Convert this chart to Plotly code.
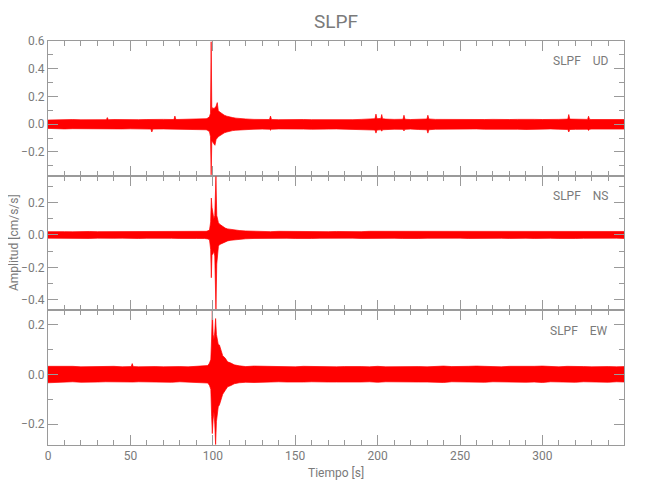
import plotly.graph_objects as go
from plotly.subplots import make_subplots

# ---------------- data (envelopes) ----------------
# UD component: time [s], upper and lower envelope [cm/s/s]
t_ud = [0, 5, 10, 15, 20, 25, 30, 35.4, 36, 36.6, 40, 45, 50, 55, 60, 62.4, 63, 63.6, 70, 76.4,
        77, 77.6, 80, 85, 90, 95,
        96, 97, 98, 98.6, 99.0, 99.4, 100.0, 100.6, 101.3, 102.0, 102.7,
        103.3, 104, 105, 106, 107, 108.5, 110, 112, 114, 117, 120,
        125, 130, 134.4, 135, 135.6, 140, 145, 150, 155, 160, 165, 170, 175, 180, 185,
        190, 195, 198.4, 199, 199.6, 202, 202.5, 203, 205, 210, 215.4, 216, 216.6, 220, 225,
        229.9, 230.5, 231.1, 235, 240, 245, 250, 255, 260, 265, 270, 275, 280, 285, 290,
        295, 300, 305, 310, 315.4, 316, 316.6, 320, 325, 327.4, 328, 328.6, 330, 335, 340,
        345, 350]
up_ud = [0.030, 0.033, 0.031, 0.034, 0.032, 0.033, 0.034, 0.033, 0.048, 0.033,
         0.034, 0.032, 0.035, 0.033, 0.034, 0.033, 0.036, 0.033, 0.035, 0.034,
         0.059, 0.034, 0.035, 0.033, 0.034, 0.036,
         0.040, 0.045, 0.055, 0.080, 0.595, 0.100, 0.120, 0.110, 0.120, 0.130, 0.156,
         0.100, 0.090, 0.080, 0.070, 0.065, 0.058, 0.052, 0.048, 0.044, 0.040, 0.038,
         0.035, 0.034, 0.034, 0.059, 0.034, 0.033, 0.035, 0.033, 0.034, 0.033,
         0.032, 0.034, 0.033, 0.034, 0.033, 0.035, 0.038, 0.040, 0.073, 0.040,
         0.042, 0.070, 0.040, 0.037, 0.035, 0.036, 0.065, 0.036, 0.034, 0.036,
         0.038, 0.065, 0.038, 0.035, 0.034, 0.033, 0.034, 0.035, 0.033, 0.034,
         0.035, 0.033, 0.034, 0.035, 0.037, 0.035, 0.034, 0.033, 0.035, 0.037,
         0.070, 0.037, 0.036, 0.035, 0.035, 0.058, 0.035, 0.034, 0.033, 0.034,
         0.033, 0.034]
lo_ud = [-0.030, -0.033, -0.034, -0.032, -0.033, -0.035, -0.033, -0.034, -0.036, -0.034,
         -0.035, -0.034, -0.033, -0.035, -0.034, -0.035, -0.056, -0.035, -0.034, -0.035,
         -0.037, -0.034, -0.035, -0.036, -0.038, -0.036,
         -0.040, -0.045, -0.055, -0.090, -0.365, -0.120, -0.130, -0.140, -0.152, -0.110, -0.093,
         -0.090, -0.085, -0.075, -0.068, -0.062, -0.056, -0.050, -0.046, -0.043, -0.040, -0.038,
         -0.036, -0.035, -0.036, -0.043, -0.036, -0.034, -0.036, -0.034, -0.035, -0.036,
         -0.033, -0.035, -0.034, -0.036, -0.034, -0.036, -0.040, -0.042, -0.064, -0.042,
         -0.040, -0.050, -0.040, -0.038, -0.036, -0.037, -0.048, -0.037, -0.035, -0.038,
         -0.040, -0.064, -0.040, -0.036, -0.035, -0.034, -0.036, -0.035, -0.034, -0.036,
         -0.035, -0.034, -0.035, -0.036, -0.038, -0.036, -0.035, -0.034, -0.036, -0.038,
         -0.056, -0.038, -0.037, -0.036, -0.036, -0.045, -0.036, -0.035, -0.034, -0.035,
         -0.034, -0.035]

# NS component
t_ns = [0, 5, 10, 15, 20, 25, 30, 35, 40, 45, 50, 55, 60, 65, 70, 75, 80, 85, 90, 95,
        96, 97, 98, 98.7, 99.1, 99.5, 100.0, 100.6, 101.2, 101.9, 102.4,
        102.9, 103.4, 104, 105, 106, 107.5, 109, 111, 113, 116, 120,
        125, 130, 135, 140, 145, 150, 155, 160, 165, 170,
        175, 180, 185, 190, 195, 200, 205, 210, 215, 220,
        225, 230, 235, 240, 245, 250, 255, 260, 265, 270,
        275, 280, 285, 290, 295, 300, 305, 310, 315, 320,
        325, 330, 335, 340, 345, 350]
up_ns = [0.020, 0.022, 0.020, 0.019, 0.022, 0.021, 0.020, 0.020, 0.022, 0.020,
         0.022, 0.021, 0.020, 0.021, 0.020, 0.021, 0.020, 0.022, 0.021, 0.022,
         0.022, 0.025, 0.030, 0.080, 0.227, 0.170, 0.130, 0.100, 0.120, 0.360, 0.120,
         0.085, 0.075, 0.067, 0.060, 0.050, 0.042, 0.037, 0.033, 0.030, 0.027, 0.024,
         0.022, 0.021, 0.020, 0.022, 0.021, 0.020, 0.020, 0.022, 0.021, 0.020,
         0.021, 0.020, 0.021, 0.020, 0.022, 0.022, 0.020, 0.021, 0.020, 0.022,
         0.020, 0.021, 0.022, 0.020, 0.020, 0.021, 0.022, 0.020, 0.021, 0.020,
         0.022, 0.020, 0.021, 0.022, 0.020, 0.020, 0.021, 0.022, 0.020, 0.021,
         0.020, 0.022, 0.020, 0.021, 0.020, 0.021]
lo_ns = [-0.020, -0.021, -0.022, -0.020, -0.022, -0.022, -0.020, -0.022, -0.021, -0.020,
         -0.022, -0.022, -0.021, -0.020, -0.022, -0.021, -0.022, -0.020, -0.022, -0.022,
         -0.022, -0.025, -0.030, -0.090, -0.264, -0.120, -0.120, -0.100, -0.130, -0.460, -0.180,
         -0.110, -0.070, -0.060, -0.055, -0.050, -0.042, -0.037, -0.033, -0.030, -0.027, -0.024,
         -0.022, -0.021, -0.022, -0.020, -0.021, -0.022, -0.020, -0.022, -0.021, -0.020,
         -0.022, -0.021, -0.020, -0.022, -0.021, -0.022, -0.020, -0.021, -0.022, -0.020,
         -0.022, -0.021, -0.020, -0.022, -0.021, -0.020, -0.022, -0.021, -0.022, -0.020,
         -0.021, -0.022, -0.020, -0.021, -0.022, -0.020, -0.021, -0.022, -0.020, -0.022,
         -0.021, -0.020, -0.022, -0.021, -0.020, -0.022]

# EW component
t_ew = [0, 5, 10, 15, 20, 25, 30, 35, 40, 45, 50.5, 51.1, 51.7, 55, 60, 65, 70, 75, 80, 85,
        90, 95,
        96, 97, 98, 98.8, 99.3, 99.7, 100.2, 100.7, 101.2, 101.7, 102.2,
        102.7, 103.3, 104, 105, 106, 107.5, 109, 111, 113, 116, 120,
        125, 130, 135, 140, 145, 150, 155, 160, 165, 170,
        175, 180, 185, 190, 195, 200, 205, 210, 215, 220,
        225, 230, 235, 240, 245, 250, 255, 260, 265, 270,
        275, 280, 285, 290, 295, 300, 305, 310, 315, 320,
        325, 330, 335, 340, 345, 350]
up_ew = [0.032, 0.033, 0.031, 0.032, 0.030, 0.031, 0.030, 0.031, 0.032, 0.030,
         0.031, 0.043, 0.031, 0.030, 0.032, 0.031, 0.030, 0.032, 0.031, 0.030,
         0.031, 0.032,
         0.032, 0.035, 0.045, 0.060, 0.150, 0.255, 0.160, 0.140, 0.170, 0.224, 0.160,
         0.137, 0.120, 0.118, 0.090, 0.075, 0.065, 0.050, 0.045, 0.038, 0.034, 0.031,
         0.033, 0.032, 0.031, 0.033, 0.031, 0.030, 0.032, 0.031, 0.031, 0.032,
         0.030, 0.031, 0.032, 0.031, 0.030, 0.032, 0.030, 0.031, 0.030, 0.032,
         0.031, 0.030, 0.032, 0.033, 0.031, 0.030, 0.032, 0.033, 0.031, 0.030,
         0.030, 0.032, 0.031, 0.030, 0.032, 0.033, 0.031, 0.030, 0.032, 0.030,
         0.031, 0.030, 0.032, 0.031, 0.030, 0.031]
lo_ew = [-0.034, -0.032, -0.031, -0.030, -0.032, -0.030, -0.031, -0.030, -0.031, -0.032,
         -0.031, -0.033, -0.031, -0.030, -0.031, -0.030, -0.031, -0.032, -0.030, -0.031,
         -0.032, -0.033,
         -0.032, -0.035, -0.045, -0.060, -0.170, -0.238, -0.180, -0.150, -0.200, -0.282, -0.190,
         -0.145, -0.130, -0.123, -0.100, -0.080, -0.065, -0.050, -0.045, -0.038, -0.034, -0.032,
         -0.033, -0.031, -0.032, -0.030, -0.031, -0.032, -0.031, -0.030, -0.032, -0.031,
         -0.031, -0.032, -0.030, -0.031, -0.030, -0.032, -0.030, -0.031, -0.032, -0.030,
         -0.031, -0.031, -0.032, -0.033, -0.030, -0.031, -0.030, -0.032, -0.032, -0.030,
         -0.031, -0.030, -0.030, -0.032, -0.031, -0.033, -0.030, -0.031, -0.030, -0.032,
         -0.030, -0.031, -0.030, -0.032, -0.030, -0.031]

components = ["UD", "NS", "EW"]
station = "SLPF"
y_ranges = [[-0.371, 0.6005], [-0.465, 0.365], [-0.284, 0.257]]
x_range = [0, 349.5]
title_text = "SLPF"
x_title = "Tiempo [s]"
y_title = "Amplitud [cm/s/s]"

series = [(t_ud, up_ud, lo_ud), (t_ns, up_ns, lo_ns), (t_ew, up_ew, lo_ew)]

# ---------------- figure ----------------
FONT = "Liberation Sans Narrow, Roboto, Liberation Sans, sans-serif"
TXT = "#7a7a7a"
AX = "#9a9a9a"
RED = "#ff0000"

fig = make_subplots(rows=3, cols=1, shared_xaxes=True, vertical_spacing=0)

for i, (t, up, lo) in enumerate(series):
    fig.add_trace(go.Scatter(x=t, y=lo, mode="lines", line=dict(color=RED, width=0.7),
                             showlegend=False, hoverinfo="skip"), row=i + 1, col=1)
    fig.add_trace(go.Scatter(x=t, y=up, mode="lines", line=dict(color=RED, width=0.7),
                             fill="tonexty", fillcolor=RED,
                             showlegend=False, hoverinfo="skip"), row=i + 1, col=1)

for i in range(3):
    fig.update_xaxes(
        range=x_range, showline=True, linecolor=AX, linewidth=1, mirror="allticks",
        ticks="inside", ticklen=10, tickwidth=1, tickcolor=AX, tick0=0, dtick=50,
        minor=dict(dtick=10, ticklen=5, ticks="inside", tickcolor=AX, showgrid=False),
        showgrid=False, zeroline=False, layer="above traces",
        showticklabels=(i == 2), tickfont=dict(family=FONT, size=12, color=TXT),
        row=i + 1, col=1)
    fig.update_yaxes(
        range=y_ranges[i], showline=True, linecolor=AX, linewidth=1, mirror="allticks",
        ticks="inside", ticklen=10, tickwidth=1, tickcolor=AX, tick0=0, dtick=0.2,
        tickformat=".1f",
        minor=dict(dtick=0.1, ticklen=5, ticks="inside", tickcolor=AX, showgrid=False),
        showgrid=False, zeroline=False, layer="above traces",
        tickfont=dict(family=FONT, size=12, color=TXT),
        row=i + 1, col=1)

annotations = [
    dict(text=title_text, x=0.5, y=1, xref="paper", yref="paper", yshift=20,
         xanchor="center", yanchor="middle", showarrow=False,
         font=dict(family=FONT, size=19, color=TXT)),
    dict(text=x_title, x=0.5, y=0, xref="paper", yref="paper", yshift=-28,
         xanchor="center", yanchor="middle", showarrow=False,
         font=dict(family=FONT, size=12, color=TXT)),
    dict(text=y_title, x=0, y=0.5, xref="paper", yref="paper", xshift=-34,
         xanchor="center", yanchor="middle", textangle=-90, showarrow=False,
         font=dict(family=FONT, size=12, color=TXT)),
]
yrefs = ["y domain", "y2 domain", "y3 domain"]
xrefs = ["x domain", "x2 domain", "x3 domain"]
for i, comp in enumerate(components):
    annotations.append(dict(
        text=f"{station}&nbsp;&nbsp;&nbsp;&nbsp;{comp}", x=0.975, y=0.85,
        xref=xrefs[i], yref=yrefs[i], xanchor="right", yanchor="middle",
        showarrow=False, font=dict(family=FONT, size=12, color=TXT)))

# page body adds an 8 px offset, so the figure is 8 px smaller with shifted margins
fig.update_layout(
    width=642, height=492,
    margin=dict(l=40, r=26, t=33, b=55),
    paper_bgcolor="white", plot_bgcolor="white",
    annotations=annotations,
    showlegend=False,
)

fig.write_html("out.html")
